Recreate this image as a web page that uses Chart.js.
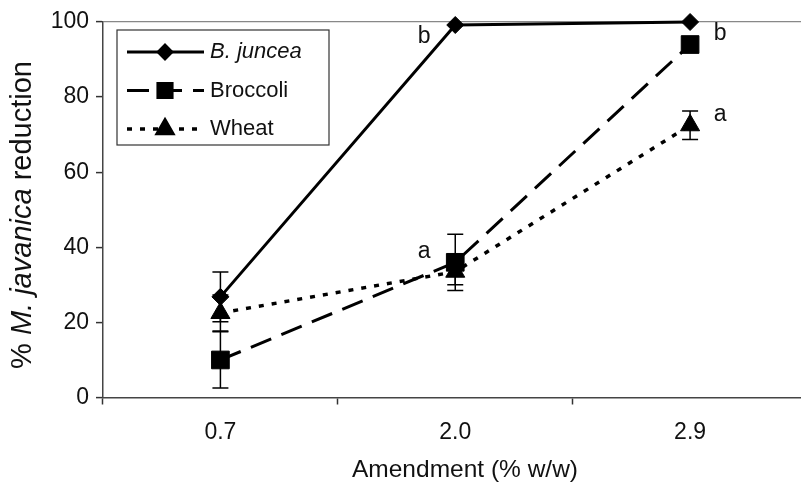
<!DOCTYPE html>
<html>
<head>
<meta charset="utf-8">
<script src="https://cdn.jsdelivr.net/npm/chart.js@4.4.1/dist/chart.umd.min.js"></script>
<style>
  html, body { margin: 0; padding: 0; background: #fff; overflow: hidden; }
  /* the plot runs a little past the right edge of the picture, so the canvas is wider and cropped */
  #wrap { position: relative; width: 801px; height: 497px; overflow: hidden; }
</style>
</head>
<body>
<div id="wrap"><canvas id="chart" width="821" height="497"></canvas></div>
<script>
// amendment rates (x categories)
const amendments = ['0.7', '2.0', '2.9'];

// % M. javanica reduction
const bJuncea = [26.8, 99.2, 100];
const bJunceaErr = [6.6, 0, 0];
const broccoli = [10, 36, 94];
const broccoliErr = [7.5, 7.5, 0];
const wheat = [22.5, 33.5, 72.5];
const wheatErr = [4.8, 3.5, 3.8];

// significance letters next to the points
const bJunceaLetters = ['', 'b', ''];
const broccoliLetters = ['', 'a', 'b'];
const wheatLetters = ['', '', 'a'];

const yTicks = [0, 20, 40, 60, 80, 100];

const FONT = '"Liberation Sans", Arial, sans-serif';

const errorBars = {
    id: 'errorBars',
    beforeDatasetsDraw(chart) {
        const ctx = chart.ctx;
        const y = chart.scales.y;
        ctx.save();
        ctx.strokeStyle = '#000';
        ctx.lineWidth = 1.5;
        chart.data.datasets.forEach((ds, di) => {
            const meta = chart.getDatasetMeta(di);
            ds.errors.forEach((e, i) => {
                if (!e) return;
                const px = meta.data[i].x;
                const top = y.getPixelForValue(ds.data[i] + e);
                const bot = y.getPixelForValue(ds.data[i] - e);
                ctx.beginPath();
                ctx.moveTo(px, top); ctx.lineTo(px, bot);
                ctx.moveTo(px - 8, top); ctx.lineTo(px + 8, top);
                ctx.moveTo(px - 8, bot); ctx.lineTo(px + 8, bot);
                ctx.stroke();
            });
        });
        ctx.restore();
    }
};

const letterLabels = {
    id: 'letterLabels',
    afterDatasetsDraw(chart) {
        const ctx = chart.ctx;
        ctx.save();
        ctx.font = '23px ' + FONT;
        ctx.fillStyle = '#111';
        ctx.textAlign = 'center';
        ctx.textBaseline = 'middle';
        chart.data.datasets.forEach((ds, di) => {
            const meta = chart.getDatasetMeta(di);
            ds.letters.forEach((t, i) => {
                if (!t) return;
                const p = meta.data[i];
                // last column: letters to the right, others to the left
                const dx = i === amendments.length - 1 ? 30 : -31;
                const dy = p.y < chart.chartArea.top + 10 ? 12 : -11;
                ctx.fillText(t, p.x + dx, p.y + dy);
            });
        });
        ctx.restore();
    }
};

const boxLegend = {
    id: 'boxLegend',
    afterDraw(chart) {
        const ctx = chart.ctx;
        const left = 117, top = 30, w = 212, h = 115;
        ctx.save();
        ctx.fillStyle = '#fff';
        ctx.fillRect(left, top, w, h);
        ctx.strokeStyle = '#333';
        ctx.lineWidth = 1.2;
        ctx.strokeRect(left, top, w, h);
        chart.data.datasets.forEach((ds, i) => {
            const cy = top + 22 + i * 38.5;
            ctx.strokeStyle = ds.borderColor;
            ctx.lineWidth = ds.borderWidth;
            ctx.setLineDash(ds.borderDash || []);
            ctx.beginPath();
            ctx.moveTo(left + 10, cy);
            ctx.lineTo(left + 87, cy);
            ctx.stroke();
            ctx.setLineDash([]);
            Chart.helpers.drawPoint(ctx, {
                pointStyle: ds.pointStyle, radius: ds.pointRadius * 0.8,
                rotation: 0, borderWidth: 1
            }, left + 48, cy);
            ctx.fillStyle = '#000';
            ctx.fill();
            ctx.font = (ds.italicLabel ? 'italic ' : '') + '22px ' + FONT;
            ctx.fillStyle = '#111';
            ctx.textBaseline = 'middle';
            ctx.textAlign = 'left';
            ctx.fillText(ds.label, left + 93, cy);
        });
        ctx.restore();
    }
};

const axisTitles = {
    id: 'axisTitles',
    afterDraw(chart) {
        const ctx = chart.ctx;
        ctx.save();
        ctx.fillStyle = '#111';
        ctx.textBaseline = 'middle';
        // x title
        ctx.font = '24.5px ' + FONT;
        ctx.textAlign = 'center';
        ctx.fillText('Amendment (% w/w)', 465, 470);
        // y title, mixed italic
        const parts = [['% ', false], ['M. javanica', true], [' reduction', false]];
        const fontFor = it => (it ? 'italic ' : '') + '29px ' + FONT;
        let total = 0;
        parts.forEach(([t, it]) => { ctx.font = fontFor(it); total += ctx.measureText(t).width; });
        ctx.translate(23, 215);
        ctx.rotate(-Math.PI / 2);
        ctx.textAlign = 'left';
        let x = -total / 2;
        parts.forEach(([t, it]) => {
            ctx.font = fontFor(it);
            ctx.fillText(t, x, 0);
            x += ctx.measureText(t).width;
        });
        ctx.restore();
    }
};

new Chart(document.getElementById('chart'), {
    type: 'line',
    data: {
        labels: amendments,
        datasets: [
            {
                label: 'B. juncea', italicLabel: true,
                data: bJuncea, errors: bJunceaErr, letters: bJunceaLetters,
                borderColor: '#000', backgroundColor: '#000', borderWidth: 3,
                pointStyle: 'rectRot', pointRadius: 8.5, pointBorderWidth: 1, clip: false
            },
            {
                label: 'Broccoli',
                data: broccoli, errors: broccoliErr, letters: broccoliLetters,
                borderColor: '#000', backgroundColor: '#000', borderWidth: 3, borderDash: [22, 11],
                pointStyle: 'rect', pointRadius: 12.5, pointBorderWidth: 1, clip: false
            },
            {
                label: 'Wheat',
                data: wheat, errors: wheatErr, letters: wheatLetters,
                borderColor: '#000', backgroundColor: '#000', borderWidth: 3.5, borderDash: [5, 8],
                pointStyle: 'triangle', pointRadius: 11, pointBorderWidth: 1, clip: false
            }
        ]
    },
    options: {
        responsive: false,
        animation: false,
        layout: { padding: { top: 22, right: 0, left: 0, bottom: 0 } },
        plugins: { legend: { display: false }, tooltip: { enabled: false } },
        scales: {
            x: {
                type: 'category',
                offset: true,
                grid: { offset: true, drawOnChartArea: false, tickLength: 7, tickColor: '#333', tickWidth: 1.5 },
                border: { color: '#444', width: 1.5 },
                ticks: { font: { family: FONT, size: 23 }, color: '#111', padding: 14 },
                afterFit(s) { s.height = 99.5; }
            },
            y: {
                min: 0, max: 100,
                afterBuildTicks(s) { s.ticks = yTicks.map(v => ({ value: v })); },
                grid: {
                    color: c => (c.tick && c.tick.value === 100 ? '#888' : 'rgba(0,0,0,0)'),
                    tickColor: '#333', tickLength: 7, lineWidth: 1.2, tickWidth: 1.5
                },
                border: { color: '#444', width: 1.5 },
                ticks: { font: { family: FONT, size: 23 }, color: '#111', padding: 7 },
                afterFit(s) { s.width = 103; }
            }
        }
    },
    plugins: [errorBars, letterLabels, boxLegend, axisTitles]
});
</script>
</body>
</html>
